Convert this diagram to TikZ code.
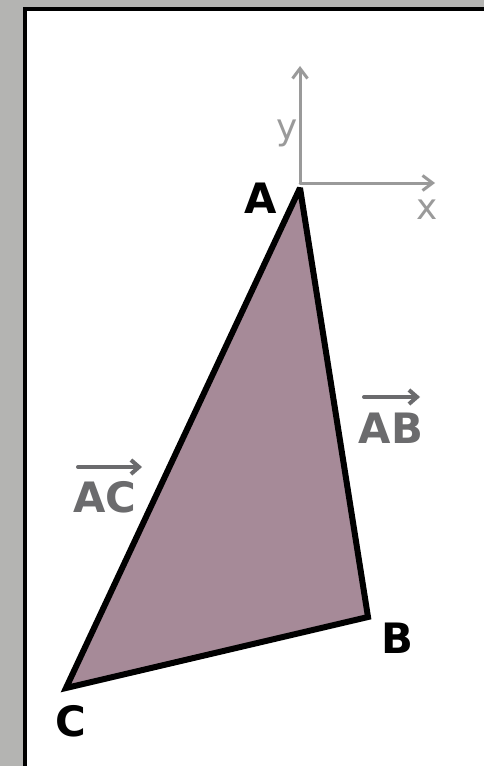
\documentclass[tikz,border=0pt]{standalone}
\usepackage{fontspec}
\setmainfont{DejaVu Sans}
\usetikzlibrary{arrows.meta}
\definecolor{bggray}{HTML}{B4B4B2}
\definecolor{axisgray}{HTML}{9A9A9A}
\definecolor{vecgray}{HTML}{6B6B6D}
\definecolor{mauve}{HTML}{A68A98}
\begin{document}
\begin{tikzpicture}[x=1bp,y=-1bp,
  axis/.style={draw=axisgray,line width=3bp,line cap=round,-{Straight Barb[length=10bp,width=15bp,line width=3bp]}},
  vec/.style={draw=vecgray,line width=4bp,line cap=round,-{Straight Barb[length=8bp,width=14bp,line width=4bp]}},
  vertexlbl/.style={font=\fontsize{42}{42}\selectfont\bfseries,text=black,inner sep=0pt},
  veclbl/.style={font=\fontsize{42}{42}\selectfont\bfseries,text=vecgray,inner sep=0pt},
  axislbl/.style={font=\fontsize{36}{36}\selectfont,text=axisgray,inner sep=0pt}]
\useasboundingbox (0,0) rectangle (484,766);
\fill[bggray] (0,0) rectangle (484,766);
\draw[line width=4bp,fill=white] (25,9) rectangle (500,790);
% axes
\coordinate (O) at (300,183);
\coordinate (Xend) at (435,183);
\coordinate (Yend) at (300,66);
\draw[axis] (O) -- (Xend);
\draw[axis] (O) -- (Yend);
\node[axislbl] (ylbl) at (287,133) {y};
\node[axislbl] (xlbl) at (427,210) {x};
% triangle
\coordinate (A) at (300,188);
\coordinate (B) at (368,617);
\coordinate (C) at (66,688);
\draw[line width=6bp,fill=mauve,line join=miter,miter limit=3] (A) -- (B) -- (C) -- cycle;
\node[vertexlbl] (Albl) at (261,198) {A};
\node[vertexlbl] (Blbl) at (397,638) {B};
\node[vertexlbl] (Clbl) at (71,721) {C};
% vector labels
\node[veclbl] (ABlbl) at (391,428) {AB};
\coordinate (ABs) at (364,397);
\coordinate (ABe) at (420,397);
\draw[vec] (ABs) -- (ABe);
\node[veclbl] (AClbl) at (105,497) {AC};
\coordinate (ACs) at (78,467);
\coordinate (ACe) at (142,467);
\draw[vec] (ACs) -- (ACe);
\end{tikzpicture}
\end{document}
